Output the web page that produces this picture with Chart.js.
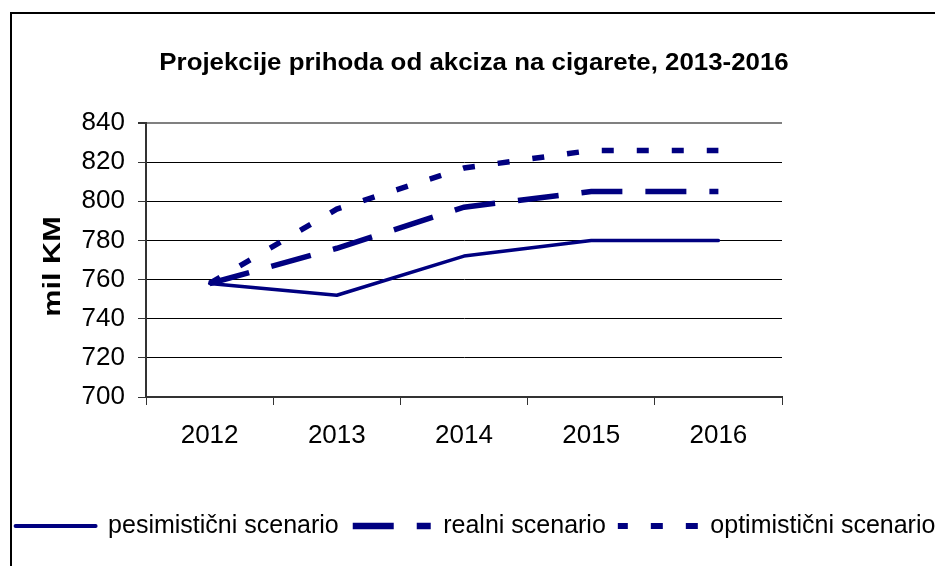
<!DOCTYPE html>
<html>
<head>
<meta charset="utf-8">
<title>Projekcije prihoda od akciza na cigarete, 2013-2016</title>
<script src="https://cdn.jsdelivr.net/npm/chart.js@4"></script>
<style>
  html, body { margin: 0; padding: 0; background: #fff; overflow: hidden; width: 935px; height: 566px; }
  #chart { position: absolute; left: 0; top: 0; }
  /* outer chart frame, only its left and top edges fall inside the window */
  #frame { position: absolute; left: 10px; top: 12px; width: 1000px; height: 1000px; border: 2px solid #000; pointer-events: none; }
</style>
</head>
<body>
<canvas id="chart" width="951" height="566"></canvas>
<div id="frame"></div>

<script>
// data
const years = ['2012', '2013', '2014', '2015', '2016'];
const pesimisticni = [758, 752, 772, 780, 780];
const realni = [758, 776, 797, 805, 805];
const optimisticni = [758, 796, 817, 826, 826];
const seriesNames = ['pesimistični scenario', 'realni scenario', 'optimistični scenario'];
const yMin = 700;
const yMax = 840;
const yStep = 20;

const NAVY = '#000080';
const FONT = 'Arial, "Liberation Sans", sans-serif';

// legend markers are a bit heavier than the plotted lines
const legendLineWidths = [4, 6.5, 6];
const legendDashOffsets = [0, 62, 2];

Chart.defaults.font.family = FONT;
Chart.defaults.color = '#000';

// the bold titles in the original are stretched along the text direction
function stretchDraw(obj, method, transform) {
  if (!obj || obj[method].stretched) return;
  const orig = obj[method];
  const wrapped = function (...args) {
    const ctx = this.ctx;
    ctx.save();
    transform(ctx, this);
    orig.apply(this, args);
    ctx.restore();
  };
  wrapped.stretched = true;
  obj[method] = wrapped;
}

const stretchPlugin = {
  id: 'stretch',
  afterUpdate(chart) {
    stretchDraw(chart.titleBlock, 'draw', (c, blk) => {
      const cx = (blk.left + blk.right) / 2;
      c.translate(cx - 1.5, 0);
      c.scale(1.1, 1);
      c.translate(-cx, 0);
    });
    stretchDraw(chart.scales.y, 'drawTitle', (c, sc) => {
      const cy = (sc.top + sc.bottom) / 2;
      c.translate(0, cy + 6.5);
      c.scale(1, 1.33);
      c.translate(0, -cy);
    });
  },
};

const ctx = document.getElementById('chart').getContext('2d');

new Chart(ctx, {
  type: 'line',
  data: {
    labels: years,
    datasets: [
      {
        label: seriesNames[0],
        data: pesimisticni,
        borderColor: NAVY,
        backgroundColor: NAVY,
        borderWidth: 3.5,
        borderCapStyle: 'round',
        borderJoinStyle: 'round',
      },
      {
        label: seriesNames[1],
        data: realni,
        borderColor: NAVY,
        backgroundColor: NAVY,
        borderWidth: 5.5,
        borderDash: [41, 23],
      },
      {
        label: seriesNames[2],
        data: optimisticni,
        borderColor: NAVY,
        backgroundColor: NAVY,
        borderWidth: 5.5,
        borderDash: [12, 23],
      },
    ],
  },
  options: {
    responsive: false,
    animation: false,
    devicePixelRatio: 1,
    elements: {
      point: { radius: 0, hoverRadius: 0 },
      line: { tension: 0, fill: false },
    },
    layout: { padding: { bottom: 17.5 } },
    plugins: {
      tooltip: { enabled: false },
      title: {
        display: true,
        text: 'Projekcije prihoda od akciza na cigarete, 2013-2016',
        color: '#000',
        font: { size: 23.5, weight: 'bold' },
        padding: { top: 49.5, bottom: 45.3 },
      },
      legend: {
        position: 'bottom',
        labels: {
          color: '#000',
          font: { size: 25 },
          usePointStyle: true,
          pointStyle: 'line',
          pointStyleWidth: 80,
          padding: 12,
          generateLabels(chart) {
            const items = Chart.defaults.plugins.legend.labels.generateLabels(chart);
            items.forEach((item, i) => {
              const ds = chart.data.datasets[item.datasetIndex];
              item.lineWidth = legendLineWidths[i];
              item.lineDash = ds.borderDash || [];
              item.lineDashOffset = legendDashOffsets[i];
              item.lineCap = ds.borderCapStyle || 'butt';
              item.strokeStyle = ds.borderColor;
            });
            return items;
          },
        },
      },
    },
    scales: {
      x: {
        offset: true,
        grid: {
          offset: true,
          drawOnChartArea: true,
          drawTicks: true,
          tickLength: 8,
          tickColor: '#333',
          // only the right edge of the plot is drawn across the area
          color: (c) => (c.index === years.length ? '#808080' : 'rgba(0,0,0,0)'),
          lineWidth: (c) => (c.index === years.length ? 2 : 1),
        },
        border: { display: true, color: '#333', width: 2 },
        ticks: {
          font: { size: 26 },
          color: '#000',
          padding: 15.4,
          maxRotation: 0,
          autoSkip: false,
        },
        afterFit: (s) => { s.height = 104.5; },
      },
      y: {
        min: yMin,
        max: yMax,
        grid: {
          tickLength: 8,
          tickColor: '#333',
          color: (c) => (c.tick && c.tick.value === yMax ? '#808080' : '#000'),
          lineWidth: (c) => (c.tick && c.tick.value === yMax ? 2 : 1),
        },
        border: { display: true, color: '#333', width: 2 },
        ticks: {
          stepSize: yStep,
          font: { size: 26 },
          color: '#000',
          padding: 13,
        },
        title: {
          display: true,
          text: 'mil KM',
          color: '#000',
          font: { size: 23, weight: 'bold' },
          padding: { top: 39.6 },
        },
        afterFit: (s) => { s.width = 146; },
      },
      // empty right-hand box that keeps the plot area off the right side
      y2: {
        position: 'right',
        grid: { display: false },
        border: { display: false },
        ticks: { display: false },
        afterFit: (s) => { s.width = 169; },
      },
    },
  },
  plugins: [stretchPlugin],
});
</script>
</body>
</html>
